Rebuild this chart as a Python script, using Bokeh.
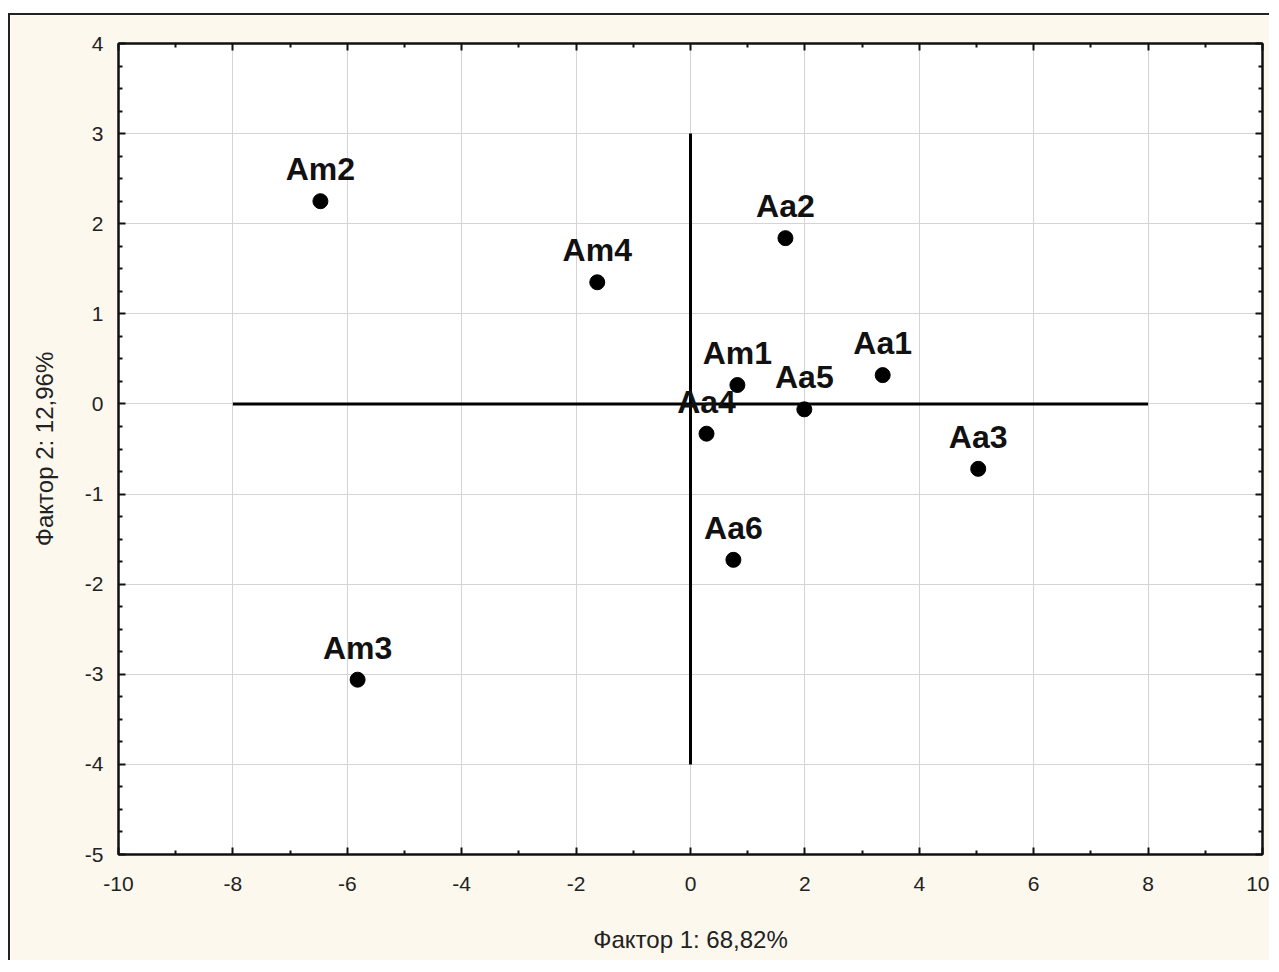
from bokeh.plotting import figure
from bokeh.models import LinearAxis, ColumnDataSource, CustomJSTickFormatter, FixedTicker, Range1d
from bokeh.core.properties import value
from bokeh.embed import file_html
from bokeh.resources import INLINE

labels = ["Am2", "Am4", "Aa2", "Am1", "Aa1", "Aa5", "Aa4", "Aa3", "Aa6", "Am3"]
factor1 = [-6.47, -1.63, 1.66, 0.82, 3.36, 1.99, 0.28, 5.03, 0.75, -5.82]
factor2 = [2.25, 1.35, 1.84, 0.21, 0.32, -0.06, -0.33, -0.72, -1.73, -3.06]

x_ticks = [-10, -8, -6, -4, -2, 0, 2, 4, 6, 8, 10]
y_ticks = [-5, -4, -3, -2, -1, 0, 1, 2, 3, 4]

hline_x = [-8, 8]
hline_y = [0, 0]
vline_x = [0, 0]
vline_y = [-4, 3]

x_label = "Фактор 1: 68,82%"
y_label = "Фактор 2: 12,96%"

CREAM = "#fdf8ee"
FONT = "Liberation Sans"

p = figure(width=1261, height=947, output_backend="svg", toolbar_location=None,
           x_range=Range1d(-10, 10), y_range=Range1d(-5, 4),
           x_axis_label=x_label, y_axis_label=y_label,
           min_border_left=108, min_border_top=28, min_border_right=9, min_border_bottom=108)
p.margin = (13, 0, 0, 8)
p.styles = {"border-top": "2px solid #222", "border-left": "2px solid #222"}
p.border_fill_color = CREAM
p.background_fill_color = "white"
p.outline_line_color = "#111"
p.outline_line_width = 2

p.xgrid.ticker = FixedTicker(ticks=x_ticks)
p.ygrid.ticker = FixedTicker(ticks=y_ticks)
p.grid.grid_line_color = "#d4d4d4"
p.grid.grid_line_width = 1

def style_axis(ax, ticks, minor, show_labels):
    ax.ticker = FixedTicker(ticks=ticks, minor_ticks=minor)
    ax.axis_line_color = "#111"
    ax.axis_line_width = 2
    ax.major_tick_in = 7
    ax.major_tick_out = 0
    ax.minor_tick_in = 4
    ax.minor_tick_out = 0
    ax.major_tick_line_color = "#111"
    ax.major_tick_line_width = 2
    ax.minor_tick_line_color = "#111"
    ax.minor_tick_line_width = 2
    ax.major_label_text_font = FONT
    ax.major_label_text_font_size = "21px"
    ax.major_label_text_color = "#222"
    ax.axis_label_text_font = FONT
    ax.axis_label_text_font_size = "24px"
    ax.axis_label_text_font_style = "normal"
    ax.axis_label_text_color = "#222"
    if show_labels:
        ax.formatter = CustomJSTickFormatter(code="return String(tick)")
    else:
        ax.formatter = CustomJSTickFormatter(code="return ''")
        ax.major_label_text_font_size = "1px"
        ax.major_label_standoff = 0

x_minor = [x + 1 for x in x_ticks[:-1]]
y_minor = [y + q for y in y_ticks[:-1] for q in (0.25, 0.5, 0.75)]

style_axis(p.xaxis[0], x_ticks, x_minor, True)
style_axis(p.yaxis[0], y_ticks, y_minor, True)
p.xaxis[0].major_label_standoff = 22
p.xaxis[0].axis_label_standoff = 32
p.yaxis[0].major_label_standoff = 15
p.yaxis[0].axis_label_standoff = 24

top = LinearAxis()
right = LinearAxis()
style_axis(top, x_ticks, x_minor, False)
style_axis(right, y_ticks, y_minor, False)
p.add_layout(top, "above")
p.add_layout(right, "right")

p.line(hline_x, hline_y, line_color="#000", line_width=3)
p.line(vline_x, vline_y, line_color="#000", line_width=3)

src = ColumnDataSource(dict(x=factor1, y=factor2, label=labels))
p.scatter("x", "y", source=src, size=15, color="#000")
p.text("x", "y", text="label", source=src, text_align="center", text_baseline="alphabetic",
       y_offset=-32, text_font=value(FONT), text_font_size="32px", text_font_style="bold",
       text_color="#111")

open("out.html", "w").write(file_html(p, INLINE))
